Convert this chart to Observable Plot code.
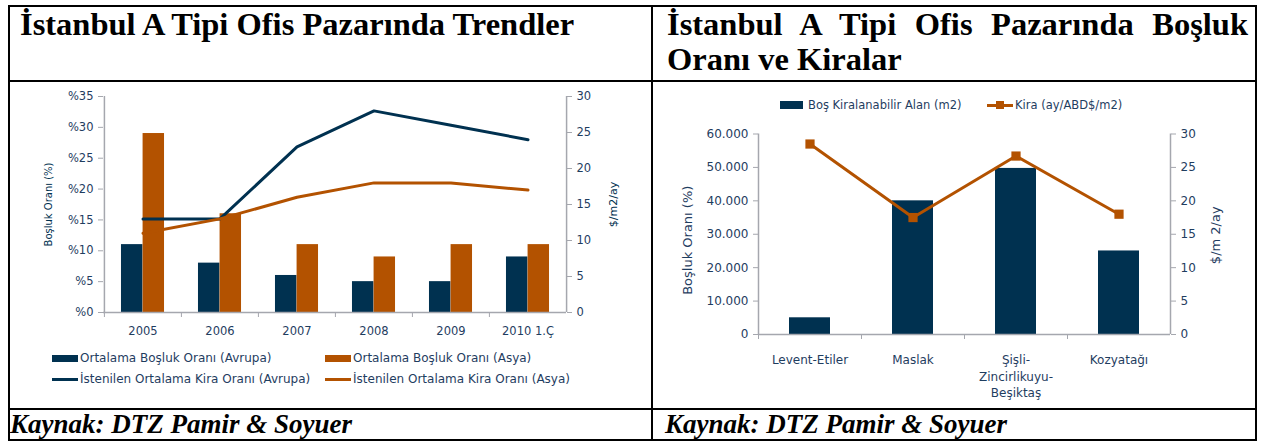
<!DOCTYPE html>
<html><head><meta charset="utf-8">
<script src="https://cdn.jsdelivr.net/npm/d3@7"></script>
<script src="https://cdn.jsdelivr.net/npm/@observablehq/plot@0.6"></script>
<style>
body{margin:0;background:#fff;}
#wrap{position:relative;width:1262px;height:441px;overflow:hidden;font-family:"DejaVu Sans",sans-serif;background:#fff;}
.hl{position:absolute;background:#000;height:2px;left:8px;width:1249px;}
.vl{position:absolute;background:#000;width:2px;top:5px;height:436px;}
.title{position:absolute;font-family:"Liberation Serif","Times New Roman",serif;font-weight:bold;font-size:32.5px;color:#000;line-height:35px;}
.src{position:absolute;font-family:"Liberation Serif","Times New Roman",serif;font-weight:bold;font-style:italic;font-size:27px;line-height:30px;top:409px;color:#000;white-space:nowrap;}
.chart{position:absolute;}
.leg{position:absolute;font-size:12px;color:#1f3d5f;white-space:nowrap;display:flex;align-items:center;height:14px;}
.sw{display:inline-block;margin-right:2px;}
</style></head>
<body>
<div id="wrap">
  <div class="title" style="left:20px;top:7px;white-space:nowrap">İstanbul A Tipi Ofis Pazarında Trendler</div>
  <div class="title" style="left:667px;top:7px;width:581px;text-align:justify">İstanbul A Tipi Ofis Pazarında Boşluk Oranı ve Kiralar</div>
  <div class="src" style="left:10px">Kaynak: DTZ Pamir &amp; Soyuer</div>
  <div class="src" style="left:665px">Kaynak: DTZ Pamir &amp; Soyuer</div>
  <div id="c1" class="chart" style="left:10px;top:84px"></div>
  <div id="c2" class="chart" style="left:653px;top:118px"></div>
  <div id="leg1"></div>
  <div id="leg2"></div>
  <div class="hl" style="top:5px"></div>
  <div class="hl" style="top:80px"></div>
  <div class="hl" style="top:408px"></div>
  <div class="hl" style="top:439px"></div>
  <div class="vl" style="left:8px"></div>
  <div class="vl" style="left:651px"></div>
  <div class="vl" style="left:1255px"></div>
</div>
<script>
// ---- Data: left chart ----
const years = ["2005", "2006", "2007", "2008", "2009", "2010 1.Ç"];
const vacancyEurope = [11, 8, 6, 5, 5, 9];
const vacancyAsia = [29, 16, 11, 9, 11, 11];
const rentEurope = [13, 13, 23, 28, 26, 24];
const rentAsia = [11, 13, 16, 18, 18, 17];
const leftTicks1 = [0, 5, 10, 15, 20, 25, 30, 35];
const rightTicks1 = [0, 5, 10, 15, 20, 25, 30];
const seriesNames1 = ["Ortalama Boşluk Oranı (Avrupa)", "Ortalama Boşluk Oranı (Asya)", "İstenilen Ortalama Kira Oranı (Avrupa)", "İstenilen Ortalama Kira Oranı (Asya)"];

// ---- Data: right chart ----
const districts = ["Levent-Etiler", "Maslak", "Şişli-\nZincirlikuyu-\nBeşiktaş", "Kozyatağı"];
const vacantArea = [5000, 40000, 49700, 25000];
const rentDistrict = [28.5, 17.5, 26.7, 18];
const leftTicks2 = [0, 10000, 20000, 30000, 40000, 50000, 60000];
const rightTicks2 = [0, 5, 10, 15, 20, 25, 30];
const seriesNames2 = ["Boş Kiralanabilir Alan (m2)", "Kira (ay/ABD$/m2)"];

const navy = "#003150", orange = "#b35200", txt = "#1f3d5f", gray = "#a5a7ae";
const trFmt = d3.formatLocale({decimal: ",", thousands: ".", grouping: [3], currency: ["", ""]}).format(",");

// ---------- Left chart ----------
const W1 = 640, H1 = 260, mL1 = 93, mR1 = 84;
const bw1 = (W1 - mL1 - mR1) / years.length;
const k1 = 35 / 30;
const rows1 = years.map((y, i) => ({year: y, eu: vacancyEurope[i], as: vacancyAsia[i], reu: rentEurope[i] * k1, ras: rentAsia[i] * k1}));

const p1 = Plot.plot({
  width: W1, height: H1, marginLeft: mL1, marginRight: mR1, marginTop: 12, marginBottom: 32,
  style: {fontFamily: "DejaVu Sans", fontSize: "11.5px", color: txt, background: "transparent", overflow: "visible"},
  x: {type: "band", domain: years, padding: 0, axis: null},
  y: {domain: [0, 35], axis: null},
  marks: [
    Plot.barY(rows1, {x: "year", y: "eu", fill: navy, insetLeft: bw1 * 0.22, insetRight: bw1 * 0.5}),
    Plot.barY(rows1, {x: "year", y: "as", fill: orange, insetLeft: bw1 * 0.5, insetRight: bw1 * 0.22}),
    Plot.ruleY([0], {stroke: gray, strokeWidth: 1.5}),
    Plot.ruleX([years[0]], {stroke: gray, strokeWidth: 1.5, dx: -bw1 / 2}),
    Plot.ruleX([years[years.length - 1]], {stroke: gray, strokeWidth: 1.5, dx: bw1 / 2}),
    Plot.line(rows1, {x: "year", y: "reu", stroke: navy, strokeWidth: 3}),
    Plot.line(rows1, {x: "year", y: "ras", stroke: orange, strokeWidth: 3}),
    Plot.axisY(leftTicks1, {anchor: "left", tickSize: 5, tickPadding: 5, stroke: gray, fill: txt, tickFormat: d => "%" + d, label: null}),
    Plot.axisY(rightTicks1.map(d => d * k1), {anchor: "right", tickSize: 5, tickPadding: 5, stroke: gray, fill: txt, tickFormat: d => Math.round(d / k1), label: null}),
    Plot.axisX({tickSize: 0, tickPadding: 14, fill: txt, label: null}),
    Plot.axisX({tickSize: 5, tickFormat: () => "", stroke: gray, dx: -bw1 / 2, label: null}),
    Plot.text(["Boşluk Oranı (%)"], {text: d => d, frameAnchor: "left", textAnchor: "middle", rotate: -90, dx: -55, fill: navy, fontSize: 10}),
    Plot.text(["$/m2/ay"], {text: d => d, frameAnchor: "right", textAnchor: "middle", rotate: -90, dx: 47, fill: navy, fontSize: 11})
  ]
});
document.getElementById("c1").appendChild(p1);

// Left legend
const leg1 = document.getElementById("leg1");
const legItems1 = [
  {name: seriesNames1[0], color: navy, kind: "rect", x: 52, y: 351},
  {name: seriesNames1[1], color: orange, kind: "rect", x: 325, y: 351},
  {name: seriesNames1[2], color: navy, kind: "line", x: 52, y: 372},
  {name: seriesNames1[3], color: orange, kind: "line", x: 325, y: 372}
];
legItems1.forEach(it => {
  const d = document.createElement("div");
  d.className = "leg";
  d.style.left = it.x + "px"; d.style.top = it.y + "px";
  const s = document.createElement("span");
  s.className = "sw";
  s.style.width = "26px";
  s.style.height = it.kind === "rect" ? "7px" : "3px";
  s.style.background = it.color;
  d.appendChild(s);
  d.appendChild(document.createTextNode(it.name));
  leg1.appendChild(d);
});

// ---------- Right chart ----------
const W2 = 602, H2 = 290, mL2 = 105, mR2 = 85;
const step2 = (W2 - mL2 - mR2) / districts.length;
const k2 = 60000 / 30;
const rows2 = districts.map((d, i) => ({d, area: vacantArea[i], rent: rentDistrict[i] * k2}));

const p2 = Plot.plot({
  width: W2, height: H2, marginLeft: mL2, marginRight: mR2, marginTop: 15.5, marginBottom: 74,
  style: {fontFamily: "DejaVu Sans", fontSize: "12px", color: txt, background: "transparent", overflow: "visible"},
  x: {type: "band", domain: districts, paddingInner: 0.6, paddingOuter: 0.3, axis: null},
  y: {domain: [0, 60000], axis: null},
  marks: [
    Plot.barY(rows2, {x: "d", y: "area", fill: navy}),
    Plot.ruleY([0], {stroke: gray, strokeWidth: 1.5}),
    Plot.ruleX([districts[0]], {stroke: gray, strokeWidth: 1.5, dx: -step2 / 2}),
    Plot.ruleX([districts[districts.length - 1]], {stroke: gray, strokeWidth: 1.5, dx: step2 / 2}),
    Plot.line(rows2, {x: "d", y: "rent", stroke: orange, strokeWidth: 3}),
    Plot.dot(rows2, {x: "d", y: "rent", symbol: "square", r: 5.2, fill: orange, stroke: "none"}),
    Plot.axisY(leftTicks2, {anchor: "left", tickSize: 5, tickPadding: 5, stroke: gray, fill: txt, tickFormat: trFmt, label: null}),
    Plot.axisY(rightTicks2.map(d => d * k2), {anchor: "right", tickSize: 5, tickPadding: 5, stroke: gray, fill: txt, tickFormat: d => Math.round(d / k2), label: null}),
    Plot.axisX({tickSize: 0, tickPadding: 18, lineHeight: 1.375, fill: txt, label: null}),
    Plot.axisX({tickSize: 5, tickFormat: () => "", stroke: gray, dx: -step2 / 2, label: null}),
    Plot.text(["Boşluk Oranı (%)"], {text: d => d, frameAnchor: "left", textAnchor: "middle", rotate: -90, dx: -71, dy: 6, fill: txt, fontSize: 13}),
    Plot.text(["$/m 2/ay"], {text: d => d, frameAnchor: "right", textAnchor: "middle", rotate: -90, dx: 45, dy: 1, fill: txt, fontSize: 13})
  ]
});
document.getElementById("c2").appendChild(p2);

// Right legend
const leg2 = document.getElementById("leg2");
[
  {name: seriesNames2[0], kind: "rect", x: 780},
  {name: seriesNames2[1], kind: "linemark", x: 987}
].forEach(it => {
  const d = document.createElement("div");
  d.className = "leg";
  d.style.fontSize = "11.5px";
  d.style.left = it.x + "px"; d.style.top = "98px";
  const s = document.createElement("span");
  s.className = "sw";
  if (it.kind === "rect") {
    s.style.width = "23px"; s.style.height = "8px"; s.style.background = navy; s.style.marginRight = "5px";
  } else {
    s.style.width = "26px"; s.style.height = "3px"; s.style.background = orange; s.style.position = "relative";
    const m = document.createElement("span");
    m.style.cssText = "position:absolute;left:9px;top:-3px;width:8px;height:8px;background:" + orange;
    s.appendChild(m);
  }
  d.appendChild(s);
  d.appendChild(document.createTextNode(it.name));
  leg2.appendChild(d);
});
</script>
</body></html>
